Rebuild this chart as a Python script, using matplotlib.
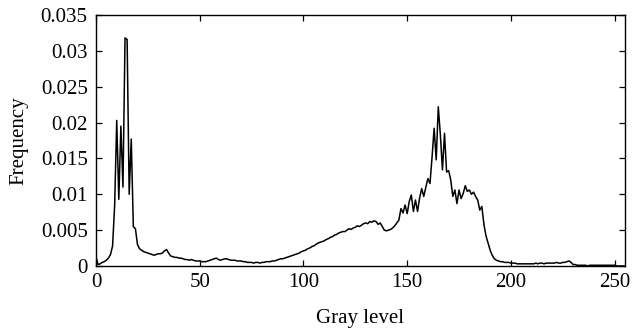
import numpy as np
import matplotlib
matplotlib.use('Agg')
import matplotlib.pyplot as plt
from matplotlib.ticker import FuncFormatter

# normalised gray-level histogram, one value per level 0..255
freq_0_49 = [0.0013, 0.0002, 0.0003, 0.0005, 0.0006, 0.0008, 0.0011, 0.0016, 0.0028, 0.0085,
             0.0203, 0.0093, 0.0195, 0.0110, 0.0318, 0.0316, 0.0100, 0.0177, 0.0055, 0.0052,
             0.0030, 0.0024, 0.0022, 0.0020, 0.0019, 0.0018, 0.0017, 0.0016, 0.0015, 0.0016,
             0.0017, 0.0017, 0.0018, 0.0021, 0.0023, 0.0018, 0.0014, 0.0013, 0.0012, 0.0012,
             0.0011, 0.0011, 0.0010, 0.0009, 0.0009, 0.0008, 0.0009, 0.0008, 0.0007, 0.0007]
freq_50_99 = [0.0007, 0.0006, 0.0006, 0.0006, 0.0007, 0.0008, 0.0009, 0.0010, 0.0011, 0.0009,
              0.0008, 0.0009, 0.0010, 0.0010, 0.0009, 0.0008, 0.0008, 0.0008, 0.0007, 0.0007,
              0.0007, 0.0006, 0.0006, 0.0005, 0.0005, 0.0005, 0.0004, 0.0005, 0.0005, 0.0004,
              0.0005, 0.0005, 0.0006, 0.0006, 0.0006, 0.0007, 0.0007, 0.0008, 0.0009, 0.0010,
              0.0010, 0.0011, 0.0012, 0.0013, 0.0014, 0.0015, 0.0016, 0.0017, 0.0018, 0.0020]
freq_100_149 = [0.0021, 0.0022, 0.0024, 0.0025, 0.0027, 0.0028, 0.0030, 0.0032, 0.0033, 0.0034,
                0.0035, 0.0037, 0.0038, 0.0040, 0.0041, 0.0043, 0.0044, 0.0046, 0.0047, 0.0048,
                0.0048, 0.0050, 0.0052, 0.0051, 0.0053, 0.0054, 0.0056, 0.0055, 0.0057, 0.0059,
                0.0060, 0.0059, 0.0062, 0.0061, 0.0063, 0.0062, 0.0058, 0.0060, 0.0055, 0.0050,
                0.0049, 0.0050, 0.0051, 0.0053, 0.0056, 0.0060, 0.0064, 0.0080, 0.0074, 0.0085]
freq_150_199 = [0.0073, 0.0090, 0.0099, 0.0076, 0.0092, 0.0076, 0.0095, 0.0108, 0.0097, 0.0110,
                0.0122, 0.0115, 0.0152, 0.0192, 0.0148, 0.0222, 0.0183, 0.0134, 0.0185, 0.0131,
                0.0133, 0.0120, 0.0097, 0.0106, 0.0087, 0.0106, 0.0094, 0.0101, 0.0112, 0.0104,
                0.0106, 0.0100, 0.0103, 0.0097, 0.0092, 0.0078, 0.0083, 0.0058, 0.0042, 0.0032,
                0.0022, 0.0015, 0.0010, 0.0008, 0.0007, 0.0006, 0.0006, 0.0005, 0.0005, 0.0005]
freq_200_255 = [0.0004, 0.0004, 0.0004, 0.0003, 0.0003, 0.0003, 0.0003, 0.0003, 0.0003, 0.0003,
                0.0003, 0.0003, 0.0004, 0.0003, 0.0004, 0.0004, 0.0003, 0.0004, 0.0004, 0.0004,
                0.0004, 0.0004, 0.0005, 0.0004, 0.0004, 0.0005, 0.0005, 0.0006, 0.0007, 0.0005,
                0.0002, 0.0002, 0.0001, 0.0001, 0.0001, 0.0001, 0.0001, 0.0000, 0.0001, 0.0001,
                0.0001, 0.0001, 0.0001, 0.0001, 0.0001, 0.0001, 0.0001, 0.0001, 0.0001, 0.0001,
                0.0001, 0.0000, 0.0000, 0.0000, 0.0000, 0.0000]

freq = np.array(freq_0_49 + freq_50_99 + freq_100_149 + freq_150_199 + freq_200_255)
levels = np.arange(len(freq))

x_ticks = [0, 50, 100, 150, 200, 250]
y_ticks = [0, 0.005, 0.01, 0.015, 0.02, 0.025, 0.03, 0.035]

plt.rcParams['font.family'] = ['Liberation Serif', 'DejaVu Serif']

fig = plt.figure(figsize=(6.34, 3.30), dpi=100)
ax = fig.add_axes([0.1514, 0.194, 0.8344, 0.7605])
ax.plot(levels, freq, color='black', lw=1.1)

ax.set_xlim(0, 255)
ax.set_ylim(0, 0.035)
ax.set_xticks(x_ticks)
ax.set_yticks(y_ticks)
ax.yaxis.set_major_formatter(FuncFormatter(lambda v, p: '%g' % v))
ax.tick_params(direction='in', top=True, right=True, length=4, width=0.9,
               labelsize=15)
ax.tick_params(axis='y', pad=6)
ax.tick_params(axis='x', pad=5)
for s in ax.spines.values():
    s.set_linewidth(1.0)

ax.set_xlabel('Gray level', fontsize=15, labelpad=12)
ax.set_ylabel('Frequency', fontsize=15, labelpad=9)

fig.savefig('out.png', dpi=100)
